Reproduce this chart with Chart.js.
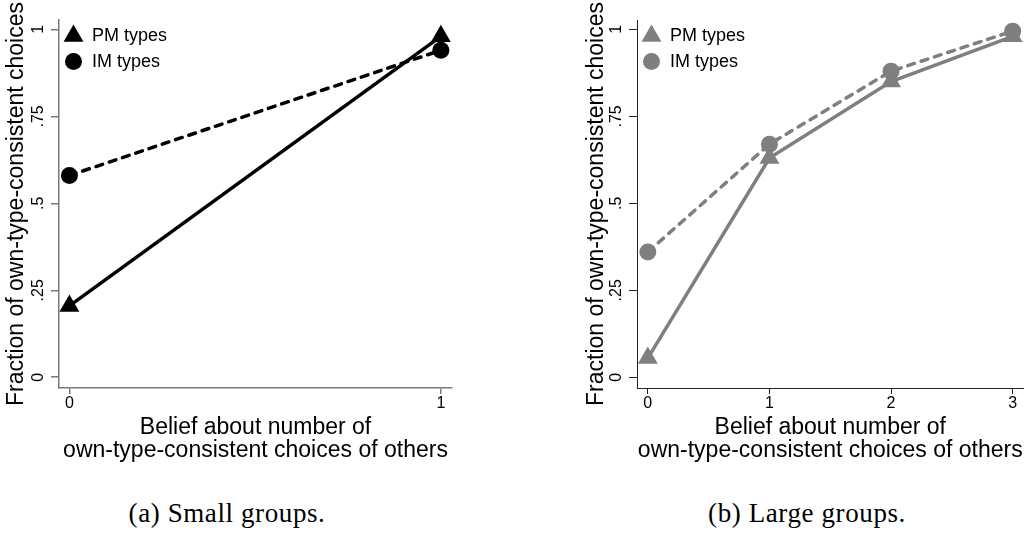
<!DOCTYPE html>
<html>
<head>
  <title>Own-type-consistent choices</title>
  <script src="https://cdn.jsdelivr.net/npm/chart.js"></script>
  <style>
    body {
      margin: 0;
      width: 1035px;
      height: 533px;
      overflow: hidden;
      background: #fff;
      position: relative;
      font-family: 'Liberation Sans', Arial, Helvetica, sans-serif;
    }
    canvas {
      position: absolute;
      top: 0;
    }
    #chart-small { left: 0; }
    #chart-large { left: 578px; }
    .caption {
      position: absolute;
      top: 497px;
      line-height: 32px;
      font-family: 'Liberation Serif', 'Times New Roman', serif;
      font-size: 27px;
      letter-spacing: 0.6px;
      white-space: nowrap;
      transform: translateX(-50%);
    }
  </style>
</head>
<body>
  <canvas id="chart-small" width="520" height="470"></canvas>
  <canvas id="chart-large" width="457" height="470"></canvas>
  <div class="caption" style="left:227px">(a) Small groups.</div>
  <div class="caption" style="left:807px">(b) Large groups.</div>

  <script>
    // shared y axis
    const yTickValues = [0, 0.25, 0.5, 0.75, 1];
    const yTickLabels = ['0', '.25', '.5', '.75', '1'];

    // small groups
    const smallBeliefs = [0, 1];
    const smallPM = [0.205, 0.98];
    const smallIM = [0.58, 0.94];

    // large groups
    const largeBeliefs = [0, 1, 2, 3];
    const largePM = [0.055, 0.63, 0.85, 0.98];
    const largeIM = [0.36, 0.67, 0.88, 0.995];

    const seriesNames = ['PM types', 'IM types'];
    const xTitle = ['Belief about number of', 'own-type-consistent choices of others'];
    const yTitle = 'Fraction of own-type-consistent choices';

    const FONT = "'Liberation Sans', Arial, Helvetica, sans-serif";
    Chart.defaults.font.family = FONT;
    Chart.defaults.font.size = 16;
    Chart.defaults.color = '#000';

    function drawMarker(ctx, style, x, y, r) {
      ctx.beginPath();
      if (style === 'triangle') {
        const a = 2 * Math.PI / 3;
        ctx.moveTo(x, y - r);
        ctx.lineTo(x + r * Math.sin(a), y - r * Math.cos(a));
        ctx.lineTo(x - r * Math.sin(a), y - r * Math.cos(a));
        ctx.closePath();
      } else {
        ctx.arc(x, y, r, 0, 2 * Math.PI);
      }
      ctx.fill();
    }

    // legend sits inside the plot, top-left corner
    const insideLegend = {
      id: 'insideLegend',
      afterDatasetsDraw(chart) {
        const { ctx, chartArea } = chart;
        const rows = [16, 41.5];
        ctx.save();
        ctx.font = '18px ' + FONT;
        ctx.textBaseline = 'middle';
        chart.data.datasets.forEach((ds, i) => {
          const y = chartArea.top + rows[i];
          ctx.fillStyle = ds.backgroundColor;
          drawMarker(ctx, ds.pointStyle, chartArea.left + 14.5, y, ds.pointRadius);
          ctx.fillStyle = '#000';
          ctx.fillText(ds.label, chartArea.left + 33, y + 0.5);
        });
        ctx.restore();
      }
    };

    function makeChart(id, o) {
      const pts = vals => o.x.map((x, i) => ({ x: x, y: vals[i] }));
      return new Chart(document.getElementById(id), {
        type: 'line',
        data: {
          datasets: [{
            label: seriesNames[0],
            data: pts(o.pm),
            borderColor: o.color,
            backgroundColor: o.color,
            borderWidth: 3.5,
            pointStyle: 'triangle',
            pointRadius: 11.5,
            pointBorderWidth: 0,
            pointBackgroundColor: o.color,
            order: 1
          }, {
            label: seriesNames[1],
            data: pts(o.im),
            borderColor: o.color,
            backgroundColor: o.color,
            borderWidth: 3.5,
            borderDash: [7, 7],
            borderCapStyle: 'round',
            pointStyle: 'circle',
            pointRadius: 8.5,
            pointBorderWidth: 0,
            pointBackgroundColor: o.color,
            order: 0
          }]
        },
        options: {
          responsive: false,
          animation: false,
          events: [],
          clip: false,
          layout: { padding: { left: 0, right: o.padRight, top: 20, bottom: 7.5 } },
          plugins: {
            legend: { display: false },
            tooltip: { enabled: false }
          },
          scales: {
            x: {
              type: 'linear',
              min: o.xMin,
              max: o.xMax,
              afterBuildTicks: s => { s.ticks = o.x.map(v => ({ value: v })); },
              afterFit: s => { s.height = 74.5; },
              grid: { drawOnChartArea: false, tickLength: 6, color: o.axis, lineWidth: o.axisWidth },
              border: { color: o.axis, width: o.axisWidth },
              ticks: {
                color: '#000', padding: 0, maxRotation: 0,
                font: { size: 16 },
                callback: v => String(v)
              },
              title: {
                display: true, text: xTitle, color: '#000',
                font: { size: 23, lineHeight: 1 },
                padding: { top: 0, bottom: 0 }
              }
            },
            y: {
              min: -0.031,
              max: 1.027,
              afterBuildTicks: s => { s.ticks = yTickValues.map(v => ({ value: v })); },
              afterFit: s => { s.width = 59; },
              grid: { drawOnChartArea: false, tickLength: 8, color: o.axis, lineWidth: o.axisWidth },
              border: { color: o.axis, width: o.axisWidth },
              ticks: {
                color: '#000', padding: 1, minRotation: 90, maxRotation: 90, crossAlign: 'center',
                font: { size: 16 },
                callback: v => yTickLabels[yTickValues.findIndex(t => Math.abs(t - v) < 1e-6)]
              },
              title: {
                display: true, text: yTitle, color: '#000',
                font: { size: 23, lineHeight: 1 },
                padding: { top: o.titlePad, bottom: 0 }
              }
            }
          }
        },
        plugins: [insideLegend]
      });
    }

    makeChart('chart-small', {
      x: smallBeliefs, pm: smallPM, im: smallIM,
      xMin: -0.028, xMax: 1.03,
      color: '#000', axis: '#7a7a7a', axisWidth: 1.5,
      padRight: 68, titlePad: 5.2
    });

    makeChart('chart-large', {
      x: largeBeliefs, pm: largePM, im: largeIM,
      xMin: -0.089, xMax: 3.089,
      color: '#7f7f7f', axis: '#222', axisWidth: 1,
      padRight: 5, titlePad: 7.2
    });
  </script>
</body>
</html>
